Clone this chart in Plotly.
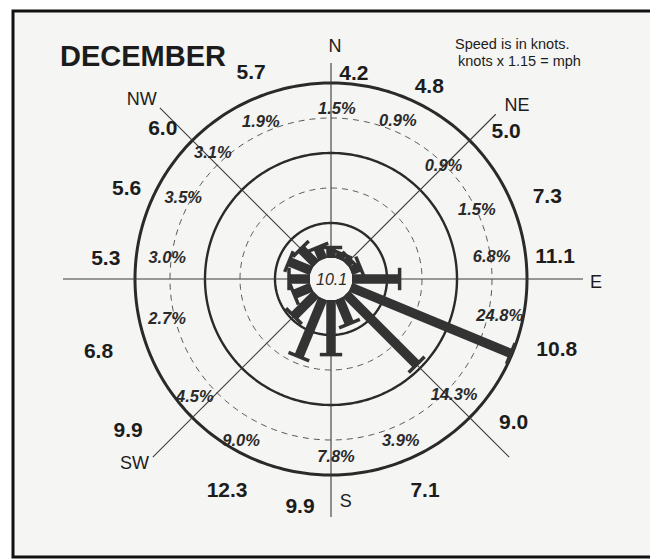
import plotly.graph_objects as go

# ---------------- data ----------------
directions = ["N", "NNE", "NE", "ENE", "E", "ESE", "SE", "SSE",
              "S", "SSW", "SW", "WSW", "W", "WNW", "NW", "NNW"]
dir_angle = [0, 22.5, 45, 67.5, 90, 112.5, 135, 157.5,
             180, 202.5, 225, 247.5, 270, 292.5, 315, 337.5]
freq_pct = [1.5, 0.9, 0.9, 1.5, 6.8, 24.8, 14.3, 3.9,
            7.8, 9.0, 4.5, 2.7, 3.0, 3.5, 3.1, 1.9]
mean_speed_kt = [4.2, 4.8, 5.0, 7.3, 11.1, 10.8, 9.0, 7.1,
                 9.9, 12.3, 9.9, 6.8, 5.3, 5.6, 6.0, 5.7]
calm_pct = 10.1
compass_labels = ["N", "NE", "E", "SE", "S", "SW", "W", "NW"]
compass_angle = [0, 45, 90, 135, 180, 225, 270, 315]
ring_pct = [5, 10, 15, 20, 25]
ring_dashed = [False, True, False, True, False]
title_text = "DECEMBER"
note_lines = ["Speed is in knots.", "knots x 1.15 = mph"]

# ---------------- layout helpers (pixels) ----------------
OFF = 8                    # page body margin
W, H = 658 - OFF, 559 - OFF
CX, CY = 331 - OFF, 279 - OFF   # centre of the rose (figure pixels, from top)
RPX = 270                  # radius of the polar area in pixels
HOLE_PX = 21               # calm circle
PX_PER_PCT = 7.0
R_MAX = (RPX - HOLE_PX) / PX_PER_PCT


def px2r(px):
    return (px - HOLE_PX) / PX_PER_PCT


def fx(x):   # reference page x -> paper fraction
    return (x - OFF) / W


def fy(y):   # reference page y (from top) -> paper fraction
    return (H - (y - OFF)) / H


# label placements (pixel radius, compass angle)
pct_label_pos = [(169, 2), (171, 23), (159, 45), (161, 65), (162, 82.6), (173, 102.7),
                 (170, 133.6), (177, 156.8), (179, 178.4), (186, 208.9), (181, 228.8),
                 (169, 256), (165, 277), (168, 298.4), (172, 316.6), (171, 335.8)]
spd_label_pos = [(206, 6.4), (215, 27.2), (228, 50.2), (231, 69.4), (225, 84.6), (237, 107.7),
                 (233, 128.4), (233, 156.2), (231, 187.7), (237, 206), (254, 233),
                 (244, 252.3), (226, 274.8), (223, 293.6), (225, 311.6), (220, 338.7)]
compass_label_pos = [(232, 1), (254, 47.1), (265, 90.9), (271, 133),
                     (224, 176.2), (270, 226.7), (280, 270), (260, 313.3)]
spoke_len_px = [216, 233, 252, 252, 238, 252, 268, 242]

FONT = "Liberation Sans, Arial, sans-serif"
INK = "#1c1c1c"
BAR = "#333333"

fig = go.Figure()

# rings
for p, dashed in zip(ring_pct, ring_dashed):
    th = list(range(0, 361, 1))
    fig.add_trace(go.Scatterpolar(
        r=[p] * len(th), theta=th, mode="lines",
        line=dict(color="#2a2a2a" if not dashed else "#555555",
                  width=(3 if p == 25 else 2.4) if not dashed else 1,
                  dash="6px,5px" if dashed else "solid"),
        hoverinfo="skip", showlegend=False))

# spokes
sr, st = [], []
for a, L in zip(compass_angle, spoke_len_px):
    sr += [0, px2r(L), None]
    st += [a, a, None]
fig.add_trace(go.Scatterpolar(r=sr, theta=st, mode="lines",
                              line=dict(color="#3a3a3a", width=1.1),
                              hoverinfo="skip", showlegend=False))

# bars
br, bt = [], []
for a, v in zip(dir_angle, freq_pct):
    br += [0, v, None]
    bt += [a, a, None]
fig.add_trace(go.Scatterpolar(r=br, theta=bt, mode="lines",
                              line=dict(color=BAR, width=9.5),
                              hoverinfo="skip", showlegend=False))
# bar end caps
fig.add_trace(go.Scatterpolar(
    r=freq_pct, theta=dir_angle, mode="markers",
    marker=dict(symbol="line-ew", size=16, angle=dir_angle, angleref="up",
                line=dict(color=BAR, width=3.5)),
    hoverinfo="skip", showlegend=False, cliponaxis=False))

# percentage labels
fig.add_trace(go.Scatterpolar(
    r=[px2r(p[0]) for p in pct_label_pos], theta=[p[1] for p in pct_label_pos],
    mode="text", text=[f"<b><i>{v:.1f}%</i></b>" for v in freq_pct],
    textfont=dict(family=FONT, size=16.5, color="#2a2a2a"),
    textposition="middle center", cliponaxis=False,
    hoverinfo="skip", showlegend=False))

# speed labels
fig.add_trace(go.Scatterpolar(
    r=[px2r(p[0]) for p in spd_label_pos], theta=[p[1] for p in spd_label_pos],
    mode="text", text=[f"<b>{v:.1f}</b>" for v in mean_speed_kt],
    textfont=dict(family=FONT, size=21, color=INK),
    textposition="middle center", cliponaxis=False,
    hoverinfo="skip", showlegend=False))

# compass labels
fig.add_trace(go.Scatterpolar(
    r=[px2r(p[0]) for p in compass_label_pos], theta=[p[1] for p in compass_label_pos],
    mode="text", text=compass_labels,
    textfont=dict(family=FONT, size=18, color=INK),
    textposition="middle center", cliponaxis=False,
    hoverinfo="skip", showlegend=False))

fig.update_layout(
    width=W, height=H,
    margin=dict(l=0, r=0, t=0, b=0),
    paper_bgcolor="white",
    plot_bgcolor="rgba(0,0,0,0)",
    showlegend=False,
    polar=dict(
        domain=dict(x=[(CX - RPX) / W, (CX + RPX) / W],
                    y=[(H - CY - RPX) / H, (H - CY + RPX) / H]),
        hole=HOLE_PX / RPX,
        bgcolor="rgba(0,0,0,0)",
        radialaxis=dict(range=[0, R_MAX], visible=False, showgrid=False),
        angularaxis=dict(rotation=90, direction="clockwise", showgrid=False,
                         showline=False, showticklabels=False, ticks=""),
    ),
    shapes=[dict(type="rect", xref="paper", yref="paper",
                 x0=fx(13), x1=1.02, y0=fy(557), y1=fy(11),
                 line=dict(color="#111111", width=3), fillcolor="#f5f5f3",
                 layer="below")],
    annotations=[
        dict(text=f"<b>{title_text}</b>", x=fx(58), y=fy(56),
             xref="paper", yref="paper", xanchor="left", yanchor="middle",
             showarrow=False, font=dict(family=FONT, size=29, color=INK)),
        dict(text=note_lines[0], x=fx(453), y=fy(44),
             xref="paper", yref="paper", xanchor="left", yanchor="middle",
             showarrow=False, font=dict(family=FONT, size=14.5, color=INK)),
        dict(text=note_lines[1], x=fx(456), y=fy(61),
             xref="paper", yref="paper", xanchor="left", yanchor="middle",
             showarrow=False, font=dict(family=FONT, size=14.5, color=INK)),
        dict(text=f"<i>{calm_pct:.1f}</i>", x=fx(331), y=fy(279),
             xref="paper", yref="paper", xanchor="center", yanchor="middle",
             showarrow=False, font=dict(family=FONT, size=16, color="#2a2a2a")),
    ],
)

fig.write_html("out.html")
